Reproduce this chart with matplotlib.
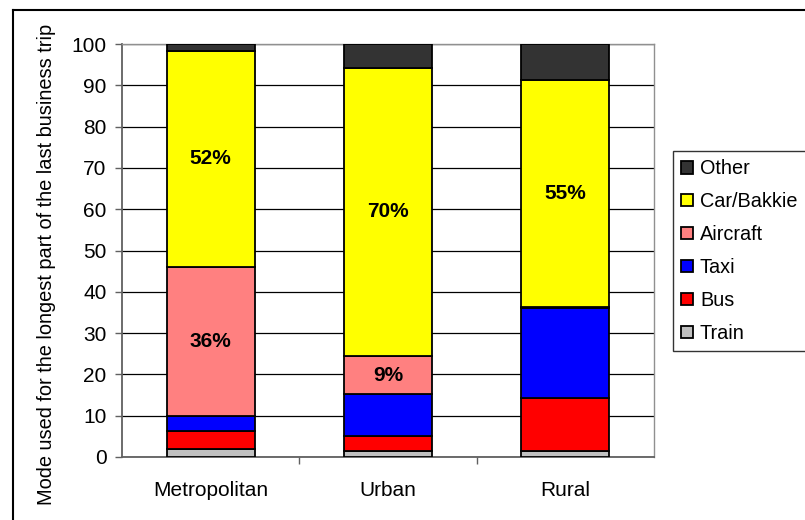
import matplotlib
matplotlib.use("Agg")
import matplotlib.pyplot as plt
from matplotlib.lines import Line2D
import numpy as np

plt.rcParams['font.family'] = ['Liberation Sans', 'DejaVu Sans']

categories = ['Metropolitan', 'Urban', 'Rural']
series_names = ['Train', 'Bus', 'Taxi', 'Aircraft', 'Car/Bakkie', 'Other']
train = [2.0, 1.5, 1.5]
bus = [4.3, 3.6, 12.9]
taxi = [3.7, 10.1, 21.6]
aircraft = [36.0, 9.3, 0.3]
car = [52.4, 69.8, 55.1]
other = [1.6, 5.7, 8.6]
colors = ['#C0C0C0', '#FF0000', '#0000FF', '#FF8080', '#FFFF00', '#333333']
labelled = ['Aircraft', 'Car/Bakkie']
yticks = list(range(0, 101, 10))
ylabel = 'Mode used for the longest part of the last business trip'

W, H = 805, 520
fig = plt.figure(figsize=(W / 100, H / 100), dpi=100)
ax = fig.add_axes([122 / W, 1 - 457 / H, (654 - 122) / W, (457 - 44) / H])

values = [train, bus, taxi, aircraft, car, other]
x = np.arange(1, len(categories) + 1)
bottom = np.zeros(len(categories))
handles = []
for name, vals, col in zip(series_names, values, colors):
    vals = np.array(vals)
    bars = ax.bar(x, vals, width=0.495, bottom=bottom, color=col,
                  edgecolor='black', linewidth=1.3, label=name, zorder=3)
    if name in labelled:
        for xi, b, v in zip(x, bottom, vals):
            if v >= 5:
                ax.text(xi, b + v / 2, f'{v:.0f}%', ha='center', va='center',
                        fontsize=15, fontweight='bold', zorder=4)
    handles.append(bars)
    bottom = bottom + vals

ax.set_xlim(0.5, 3.5)
ax.set_ylim(0, 100)
ax.set_yticks(yticks)
ax.tick_params(axis='y', labelsize=15, direction='out', length=5,
               width=1, color='#606060', pad=6)
ax.set_xticks(x)
ax.set_xticklabels(categories)
ax.tick_params(axis='x', which='major', labelsize=15, length=0, pad=17)
ax.set_xticks([1.5, 2.5], minor=True)
ax.tick_params(axis='x', which='minor', direction='out', length=5,
               width=1, color='#606060')
ax.yaxis.grid(True, color='black', linewidth=0.9, zorder=0)
ax.set_axisbelow(True)
for s in ['left', 'bottom']:
    ax.spines[s].set_color('#606060')
    ax.spines[s].set_linewidth(1.3)
for s in ['top', 'right']:
    ax.spines[s].set_color('#909090')
    ax.spines[s].set_linewidth(1.0)

fig.text(47 / W, 1 - 264 / H, ylabel, rotation=90, ha='center', va='center',
         fontsize=14.4)

leg = fig.legend(handles[::-1], series_names[::-1], loc='upper left',
                 bbox_to_anchor=(672.7 / W, 1 - 151 / H), borderaxespad=0,
                 fontsize=14.3, frameon=True, fancybox=False, shadow=False,
                 handlelength=0.58, handleheight=0.58, handletextpad=0.37,
                 labelspacing=0.7, borderpad=0.42)
leg.get_frame().set_edgecolor('black')
leg.get_frame().set_linewidth(1.0)

fig.add_artist(Line2D([13 / W, 13 / W], [0, 1 - 10 / H], color='black', linewidth=1.5))
fig.add_artist(Line2D([13 / W, 1], [1 - 10 / H, 1 - 10 / H], color='black', linewidth=1.5))

fig.savefig('out.png', dpi=100)
